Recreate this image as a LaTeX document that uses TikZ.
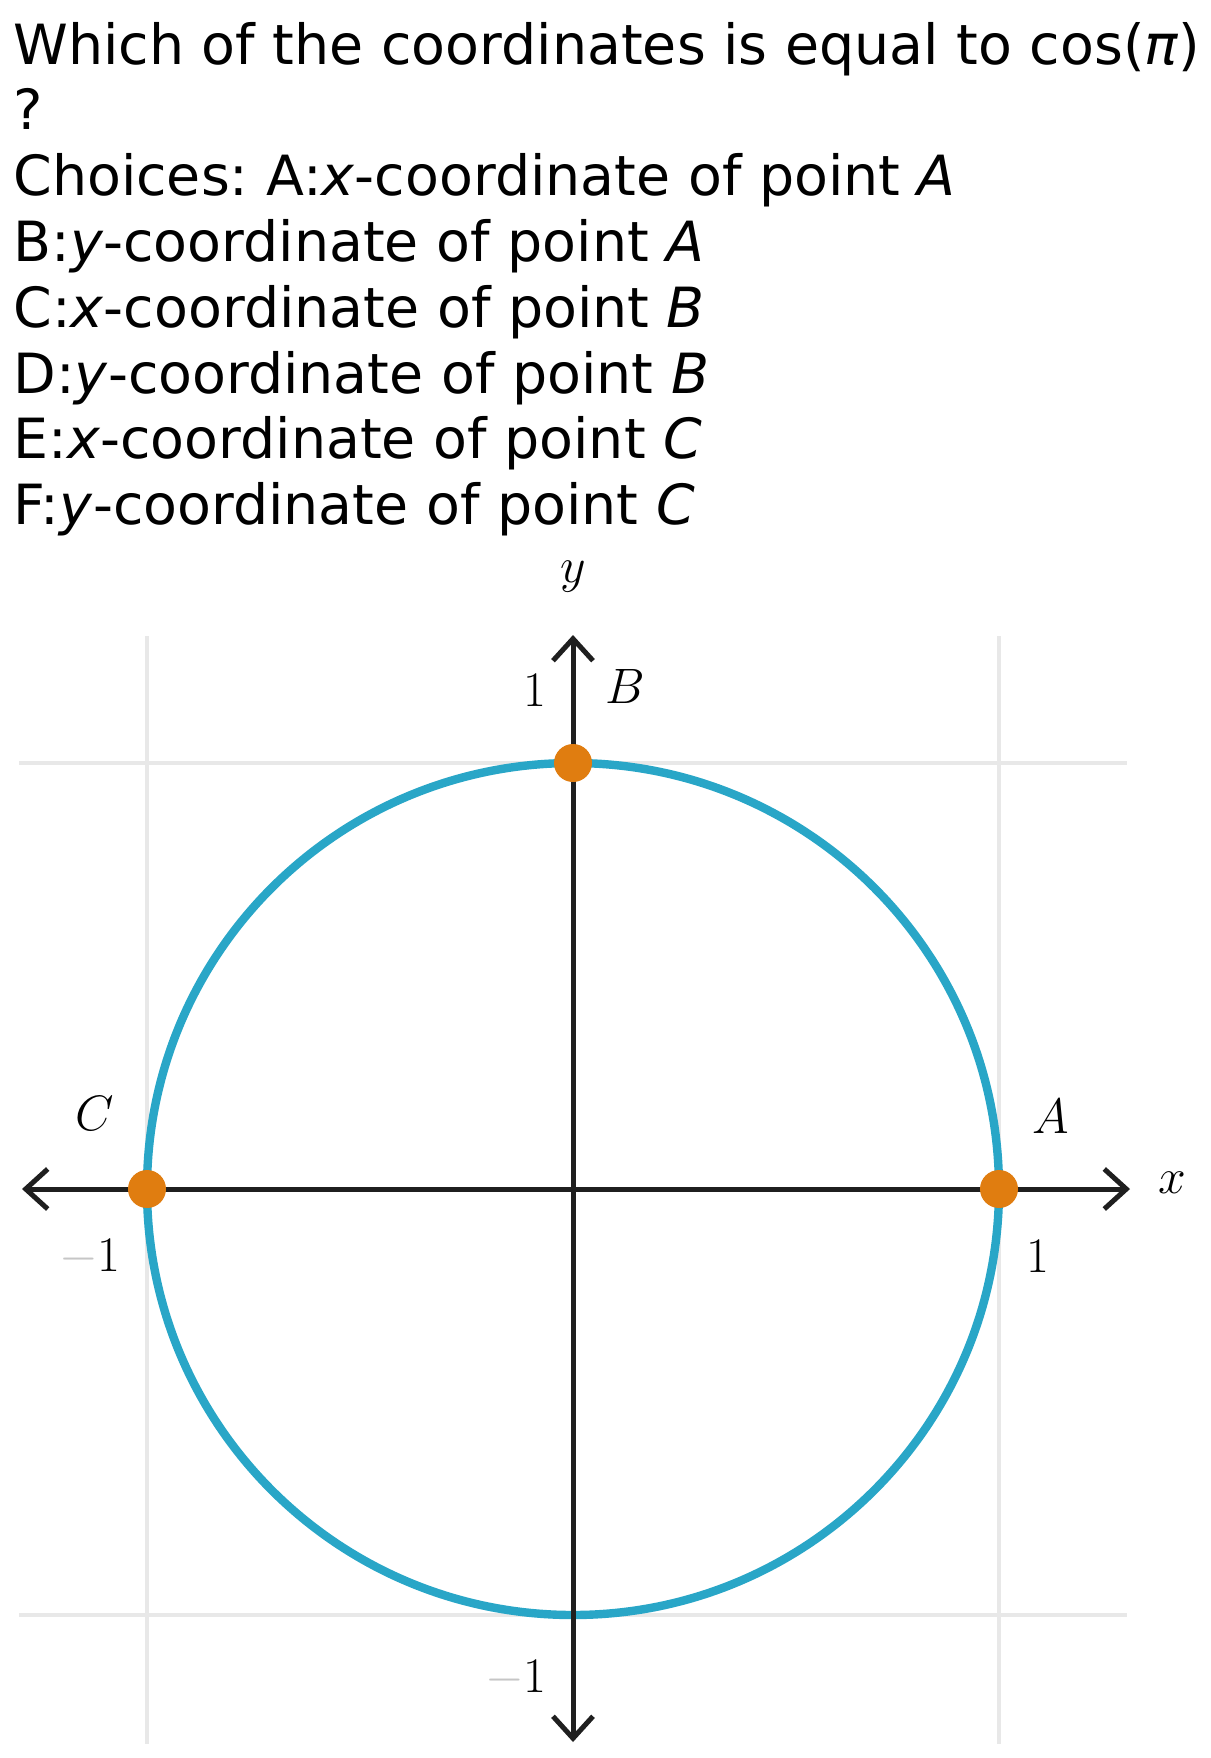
\documentclass[tikz,border=0pt]{standalone}
\usepackage[no-math]{fontspec}
\setmainfont{DejaVu Sans}
\usepackage{xcolor}
\usetikzlibrary{arrows.meta,positioning}
\definecolor{circleblue}{RGB}{41,166,199}
\definecolor{dotorange}{RGB}{224,125,16}
\definecolor{gridgray}{RGB}{232,232,232}
\frenchspacing
\begin{document}
\begin{tikzpicture}[x=0.5pt,y=-0.5pt,
      question/.style={inner sep=0pt,text height=23pt,text depth=6pt,font=\fontsize{27.7}{33}\selectfont},
      gridline/.style={gridgray,line width=2pt},
      axis/.style={black!88,line width=2.5pt,{Straight Barb[length=11pt,width=20pt]}-{Straight Barb[length=11pt,width=20pt]}},
      dot/.style={circle,fill=dotorange,inner sep=0pt,minimum size=19pt},
      lbl/.style={inner sep=0pt,font=\fontsize{25}{30}\selectfont}
      ]
      \useasboundingbox (0,0) rectangle (1211,1758);

      % question and choices
      \node[question,anchor=base west] at (13,64) (q1) {Which of the coordinates is equal to cos(\textit{π})};
      \node[question,below right=3.5pt and 0pt of q1.south west] (q2) {?};
      \node[question,below right=3.5pt and 0pt of q2.south west] (q3) {Choices: A:\textit{x}-coordinate of point \textit{A}};
      \node[question,below right=3.5pt and 0pt of q3.south west] (q4) {B:\textit{y}-coordinate of point \textit{A}};
      \node[question,below right=3.5pt and 0pt of q4.south west] (q5) {C:\textit{x}-coordinate of point \textit{B}};
      \node[question,below right=3.5pt and 0pt of q5.south west] (q6) {D:\textit{y}-coordinate of point \textit{B}};
      \node[question,below right=3.5pt and 0pt of q6.south west] (q7) {E:\textit{x}-coordinate of point \textit{C}};
      \node[question,below right=3.5pt and 0pt of q7.south west] (q8) {F:\textit{y}-coordinate of point \textit{C}};

      % grid
      \coordinate (origin) at (573,1189);
      \coordinate (gleft) at (19,763);
      \coordinate (gright) at (1127,763);
      \draw[gridline] (gleft) -- (gright);
      \draw[gridline] ([yshift=-426pt]gleft) -- ([yshift=-426pt]gright);
      \coordinate (gtop) at (147,636);
      \coordinate (gbottom) at (147,1744);
      \draw[gridline] (gtop) -- (gbottom);
      \draw[gridline] ([xshift=426pt]gtop) -- ([xshift=426pt]gbottom);

      % unit circle
      \draw[circleblue,line width=4.2pt] (origin) circle[radius=426];

      % axes
      \coordinate (xl) at (22,1189);
      \coordinate (xr) at (1130,1189);
      \coordinate (yt) at (573,635);
      \coordinate (yb) at (573,1742);
      \draw[axis] (xl) -- (xr);
      \draw[axis] (yb) -- (yt);

      % points
      \node[dot] (A) at (999,1189) {};
      \node[dot] (B) at (573,763) {};
      \node[dot] (C) at (147,1189) {};

      % labels
      \node[lbl] (xlabel) at (1172,1183) {$x$};
      \node[lbl] (ylabel) at (573,577) {$y$};
      \node[lbl] (labelA) at (1051,1116) {$A$};
      \node[lbl] (labelB) at (625,686) {$B$};
      \node[lbl] (labelC) at (95,1113) {$C$};
      \node[lbl] (xone) at (1038,1256) {$1$};
      \node[lbl] (xmone) at (90,1258) {$\textcolor{gray!45}{-}1$};
      \node[lbl] (yone) at (535,690) {$1$};
      \node[lbl] (ymone) at (516,1679) {$\textcolor{gray!45}{-}1$};

    \end{tikzpicture}
\end{document}
